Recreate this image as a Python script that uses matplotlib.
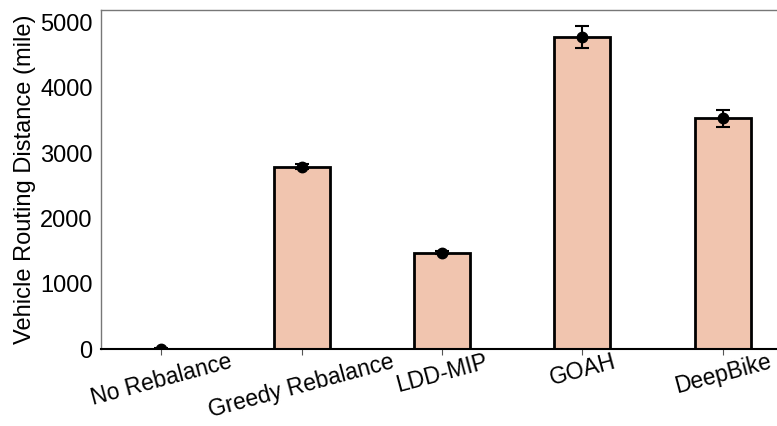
import matplotlib
matplotlib.use("Agg")
import matplotlib.pyplot as plt
import numpy as np

categories = ["No Rebalance", "Greedy Rebalance", "LDD-MIP", "GOAH", "DeepBike"]
values = [5, 2790, 1475, 4778, 3533]
errors = [10, 40, 20, 164, 133]

plt.rcParams['font.family'] = ['Liberation Sans', 'DejaVu Sans']

fig = plt.figure(figsize=(7.77, 4.26), dpi=100)
W, H = 777, 426
left, right, top, bottom = 101, 783, 10, 349
ax = fig.add_axes([left / W, (H - bottom) / H, (right - left) / W, (bottom - top) / H])

x = np.arange(len(categories))
ax.bar(x, values, width=0.4, color="#F1C5AF", edgecolor="black", linewidth=2, zorder=2)
ax.errorbar(x, values, yerr=errors, fmt='o', color='black', markersize=7.5,
            capsize=5, elinewidth=1.5, capthick=1.5, zorder=3)

ax.set_xlim(-0.43, 4.43)
ax.set_ylim(0, 5190)
ax.set_yticks([0, 1000, 2000, 3000, 4000, 5000])
ax.set_xticks(x)
ax.set_xticklabels(categories, rotation=15, ha='center', fontsize=16.5)
ax.tick_params(axis='y', labelsize=17, length=0, pad=6)
ax.tick_params(axis='x', length=4, color='#555555', pad=-3)
ax.set_ylabel("Vehicle Routing Distance (mile)", fontsize=17, labelpad=3)

for s in ['top', 'left', 'right']:
    ax.spines[s].set_color('#777777')
    ax.spines[s].set_linewidth(1)
ax.spines['bottom'].set_color('black')
ax.spines['bottom'].set_linewidth(1.5)

fig.savefig("out.png", dpi=100)
